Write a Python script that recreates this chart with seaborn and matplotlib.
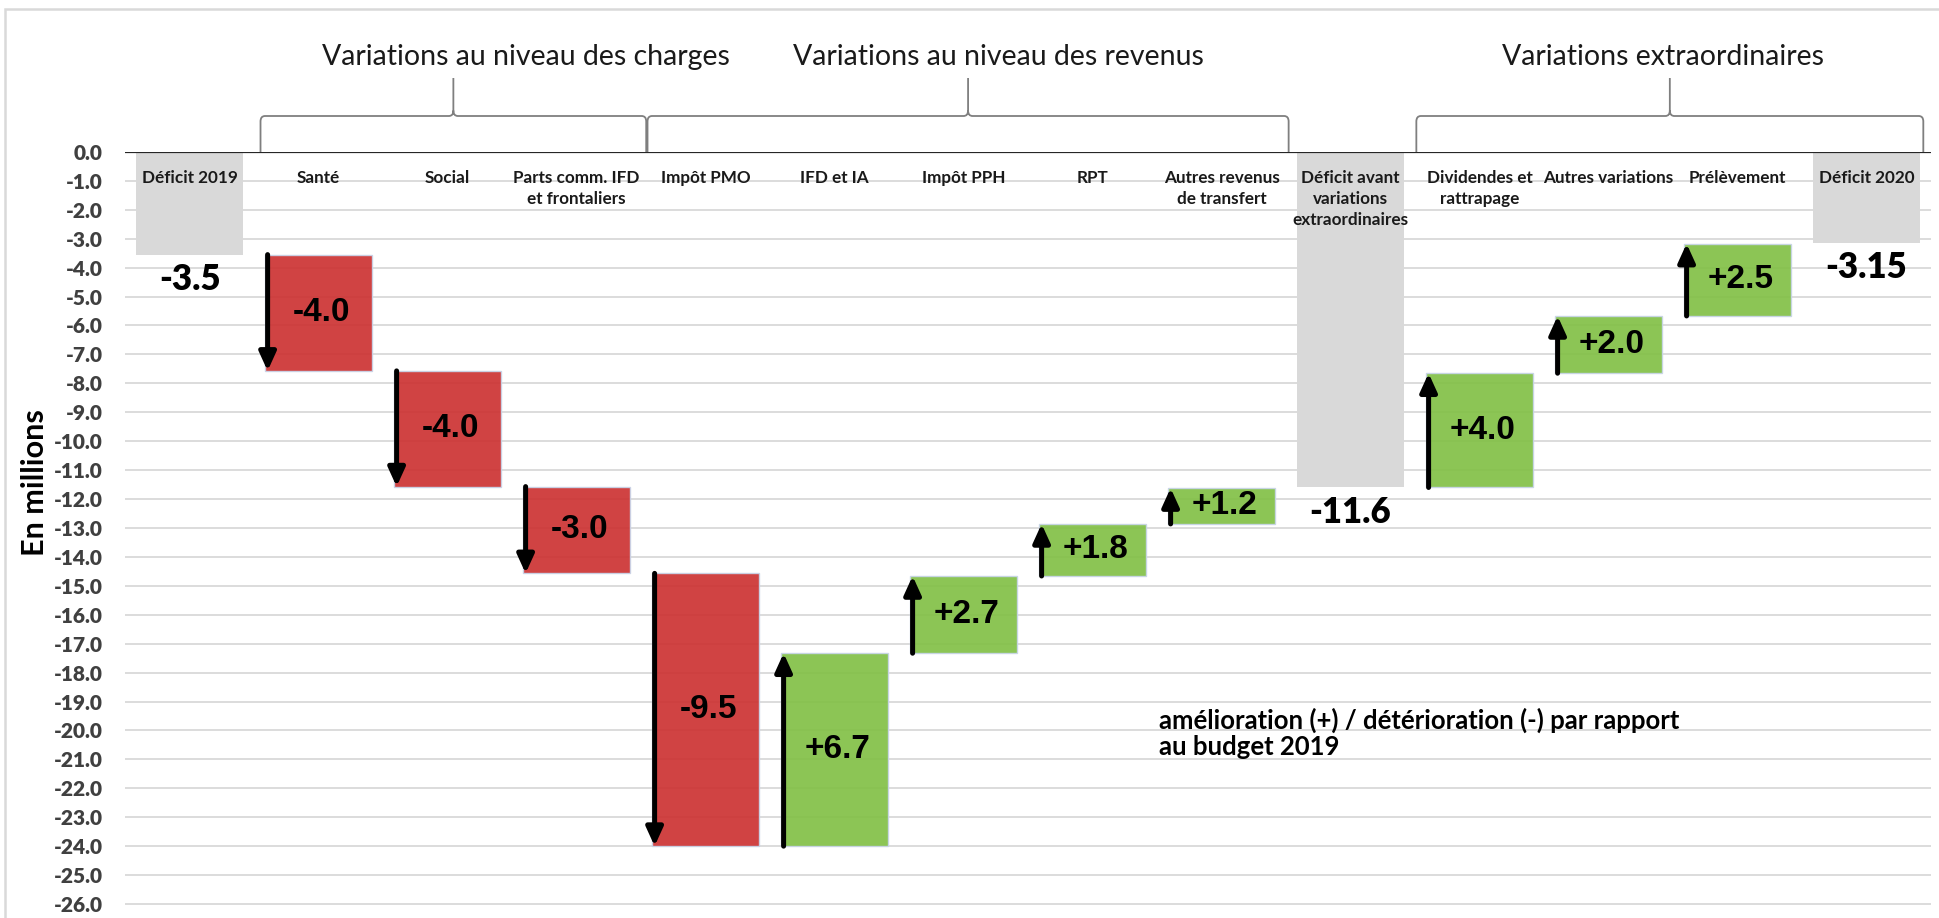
import numpy as np
import pandas as pd
import matplotlib
matplotlib.use("Agg")
import matplotlib.pyplot as plt
import seaborn as sns
from matplotlib.path import Path
from matplotlib.patches import PathPatch, Rectangle
from matplotlib.transforms import blended_transform_factory

# postes du graphique (dans l'ordre)
categories = ["Déficit 2019", "Santé", "Social", "Parts comm. IFD\net frontaliers",
              "Impôt PMO", "IFD et IA", "Impôt PPH", "RPT", "Autres revenus\nde transfert",
              "Déficit avant\nvariations\nextraordinaires", "Dividendes et\nrattrapage",
              "Autres variations", "Prélèvement", "Déficit 2020"]

deficit_2019 = -3.55
var_charges = [-4.02, -4.0, -3.0, -9.43]
var_revenus = [6.67, 2.67, 1.8, 1.24]
deficit_avant = -11.6
var_extra = [3.95, 1.98, 2.5]
deficit_2020 = -3.15

value_labels = ["-3.5", "-4.0", "-4.0", "-3.0", "-9.5", "+6.7", "+2.7", "+1.8", "+1.2",
                "-11.6", "+4.0", "+2.0", "+2.5", "-3.15"]

group_titles = ["Variations au niveau des charges", "Variations au niveau des revenus",
                "Variations extraordinaires"]

note = "amélioration (+) / détérioration (-) par rapport\nau budget 2019"

# --- construction du waterfall ---
tops, bottoms, kinds = [0.0], [deficit_2019], ["total"]
running = deficit_2019
for d in var_charges + var_revenus:
    new = running + d
    tops.append(max(running, new)); bottoms.append(min(running, new))
    kinds.append("neg" if d < 0 else "pos")
    running = new
tops.append(0.0); bottoms.append(deficit_avant); kinds.append("total")
running = deficit_avant
for d in var_extra:
    new = running + d
    tops.append(max(running, new)); bottoms.append(min(running, new))
    kinds.append("neg" if d < 0 else "pos")
    running = new
tops.append(0.0); bottoms.append(deficit_2020); kinds.append("total")

df = pd.DataFrame({"poste": categories, "haut": tops, "bas": bottoms, "type": kinds})
df["hauteur"] = df["bas"] - df["haut"]

colors = {"total": "#d9d9d9", "neg": "#cc3333", "pos": "#82c046"}

sns.set_style("white")
plt.rcParams["font.family"] = ["Lato", "DejaVu Sans"]

fig = plt.figure(figsize=(19.39, 9.18), dpi=100)
ax = fig.add_axes([0.0645, 0.0058, 0.9314, 0.8287])

sns.barplot(data=df, x="poste", y="hauteur", order=categories, bottom=df["haut"].to_numpy(),
            errorbar=None, width=0.83, color="#d9d9d9", saturation=1, ax=ax, zorder=2)
for p, k in zip(ax.patches, df["type"]):
    p.set_facecolor(colors[k])
    if k != "total":
        p.set_alpha(0.92)
        p.set_edgecolor("#c8d4e8")
        p.set_linewidth(1)
    else:
        p.set_edgecolor("none")

ax.set_xlim(-0.5, len(categories) - 0.5)
ax.set_ylim(-26.3, 0)
ticks = list(range(0, -27, -1))
ax.set_yticks(ticks)
ax.set_yticklabels([f"{t:.1f}" for t in ticks])
for lab in ax.get_yticklabels():
    lab.set_fontweight("heavy")
ax.tick_params(axis="y", length=0, pad=16, labelsize=15, labelcolor="#404040")
ax.tick_params(axis="x", bottom=False, labelbottom=False)
ax.set_xlabel("")
ax.set_ylabel("")
ax.yaxis.grid(True, color="#d9d9d9", lw=1.3)
ax.set_axisbelow(True)
sns.despine(ax=ax, left=True, bottom=True)
ax.spines["top"].set_visible(False)
ax.axhline(0, color="#262626", lw=1.6, zorder=3)

# flèches et étiquettes
for i, row in df.iterrows():
    if row["type"] == "total":
        ax.text(i, row["bas"] - 0.85, value_labels[i], ha="center", va="center",
                fontsize=25, fontweight="heavy", color="black", zorder=5)
    else:
        xa = i - 0.395
        if row["type"] == "neg":
            start, end = row["haut"], row["bas"]
        else:
            start, end = row["bas"], row["haut"]
        ax.annotate("", xy=(xa, end), xytext=(xa, start),
                    arrowprops=dict(arrowstyle="-|>,head_length=11,head_width=5",
                                    color="black", lw=3.6, shrinkA=0, shrinkB=0,
                                    mutation_scale=1), zorder=4)
        ax.text(i + 0.02, (row["haut"] + row["bas"]) / 2, value_labels[i], ha="center",
                va="center", fontsize=24, fontweight="bold", color="black",
                family=["Liberation Sans", "DejaVu Sans"], zorder=5)
    ax.text(i, -0.64, row["poste"], ha="center", va="top", fontsize=12.3, fontweight="bold",
            color="#1a1a1a", linespacing=1.38, zorder=5)

# accolades et titres de groupes
tr = blended_transform_factory(ax.transData, fig.transFigure)
y_b, y_h, y_t = 1 - 152 / 918, 1 - 116 / 918, 1 - 78 / 918
r, rx = 0.006, 0.035
for x0, x1 in [(0.55, 3.54), (3.55, 8.52), (9.51, 13.44)]:
    xm = (x0 + x1) / 2
    verts = [(x0, y_b), (x0, y_h - r), (x0, y_h), (x0 + rx, y_h), (xm - rx, y_h),
             (xm, y_h), (xm, y_h + r), (xm, y_t),
             (xm, y_h + r), (xm, y_h), (xm + rx, y_h), (x1 - rx, y_h),
             (x1, y_h), (x1, y_h - r), (x1, y_b)]
    codes = [Path.MOVETO, Path.LINETO, Path.CURVE3, Path.CURVE3, Path.LINETO,
             Path.CURVE3, Path.CURVE3, Path.LINETO,
             Path.MOVETO, Path.CURVE3, Path.CURVE3, Path.LINETO,
             Path.CURVE3, Path.CURVE3, Path.LINETO]
    ax.add_patch(PathPatch(Path(verts, codes), transform=tr, fill=False,
                           edgecolor="#7f7f7f", lw=1.3, clip_on=False))

for x, t in zip([2.61, 6.27, 11.42], group_titles):
    ax.text(x, 1 - 57 / 918, t, transform=tr, ha="center", va="center", fontsize=20.5,
            color="#1a1a1a")

ax.text(7.516, -20.1, note, ha="left", va="center", fontsize=18.5, fontweight="bold",
        linespacing=1.12, color="black", zorder=5)

fig.text(0.018, 0.474, "En millions", rotation=90, ha="center", va="center",
         fontsize=22, fontweight="bold", color="black")

fig.patches.append(Rectangle((0.0026, -0.1), 1.1, 1.09, transform=fig.transFigure,
                             fill=False, edgecolor="#d9d9d9", lw=1.8))

fig.savefig("out.png", dpi=100)
